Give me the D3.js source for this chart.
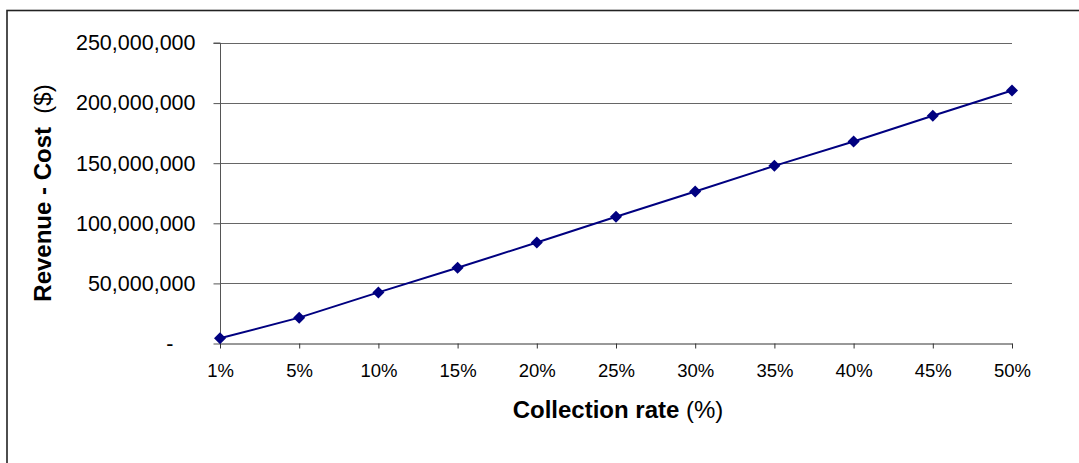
<!DOCTYPE html>
<html>
<head>
<meta charset="utf-8">
<script src="https://cdn.jsdelivr.net/npm/d3@7"></script>
<style>
  html, body { margin: 0; padding: 0; background: #fff; }
  svg { display: block; font-family: "Liberation Sans", Arial, sans-serif; }
</style>
</head>
<body>
<svg id="chart" width="1079" height="463"></svg>
<script>
// Collection rate categories (x axis)
const rates = ["1%", "5%", "10%", "15%", "20%", "25%", "30%", "35%", "40%", "45%", "50%"];
// Net result (revenue minus cost), in dollars
const netValues = [4300000, 21500000, 42500000, 63000000, 84000000, 105500000,
                   126500000, 147800000, 168000000, 189500000, 210500000];
// Y axis ticks and their labels
const yTicks = [0, 50000000, 100000000, 150000000, 200000000, 250000000];
const yTickLabels = ["-", "50,000,000", "100,000,000", "150,000,000", "200,000,000", "250,000,000"];

const svg = d3.select("#chart");
const W = 1079, H = 463;
const plot = { left: 220, right: 1012, top: 43, bottom: 343.5 };

// Outer frame (left and top edges are visible; it runs past the page on the right/bottom)
svg.append("rect")
  .attr("x", 7).attr("y", 10.5)
  .attr("width", W + 10).attr("height", H + 10)
  .attr("fill", "#fff")
  .attr("stroke", "#222").attr("stroke-width", 1.6);

const x = d3.scalePoint().domain(rates).range([plot.left, plot.right]).padding(0);
const y = d3.scaleLinear().domain([0, 250000000]).range([plot.bottom, plot.top]);

// Horizontal gridlines
svg.append("g")
  .selectAll("line")
  .data(yTicks.filter(d => d > 0))
  .join("line")
  .attr("x1", plot.left).attr("x2", plot.right)
  .attr("y1", d => Math.round(y(d)) + 0.5).attr("y2", d => Math.round(y(d)) + 0.5)
  .attr("stroke", "#666").attr("stroke-width", 1);

// Y axis
const yAxis = d3.axisLeft(y)
  .tickValues(yTicks)
  .tickSize(7)
  .tickPadding(18)
  .tickFormat((d, i) => yTickLabels[i]);

const gy = svg.append("g")
  .attr("transform", `translate(${plot.left + 0.5},0)`)
  .call(yAxis);
gy.select(".domain").attr("stroke", "#555").attr("d", `M-7,${y(250000000)}H0V${y(0)}`);
gy.selectAll(".tick line").attr("stroke", "#555");
gy.selectAll(".tick text")
  .attr("font-size", 21.5)
  .attr("fill", "#000")
  .attr("font-family", "'Liberation Sans', Arial, sans-serif")
  .attr("dx", (d, i) => yTickLabels[i] === "-" ? -22 : 0);

// X axis
const xAxis = d3.axisBottom(x).tickSize(5).tickSizeOuter(0).tickPadding(15);
const gx = svg.append("g")
  .attr("transform", `translate(0,${plot.bottom})`)
  .call(xAxis);
gx.select(".domain").attr("stroke", "#333");
gx.selectAll(".tick line").attr("stroke", "#333");
gx.selectAll(".tick text")
  .attr("font-size", 18.5)
  .attr("fill", "#000")
  .attr("font-family", "'Liberation Sans', Arial, sans-serif");

// Series line
const line = d3.line()
  .x((d, i) => x(rates[i]))
  .y(d => y(d));

svg.append("path")
  .datum(netValues)
  .attr("d", line)
  .attr("fill", "none")
  .attr("stroke", "#000080")
  .attr("stroke-width", 2);

// Diamond markers
svg.append("g")
  .selectAll("path")
  .data(netValues)
  .join("path")
  .attr("transform", (d, i) => `translate(${x(rates[i])},${y(d)})`)
  .attr("d", d3.symbol().type(d3.symbolDiamond2).size(92))
  .attr("fill", "#000080");

// X axis title
const xt = svg.append("text")
  .attr("x", (plot.left + plot.right) / 2 + 2)
  .attr("y", 418)
  .attr("text-anchor", "middle")
  .attr("font-size", 24)
  .attr("fill", "#000");
xt.append("tspan").attr("font-weight", "bold").text("Collection rate");
xt.append("tspan").text(" (%)");

// Y axis title
const yt = svg.append("text")
  .attr("transform", `translate(51,${193}) rotate(-90)`)
  .attr("text-anchor", "middle")
  .attr("font-size", 24)
  .attr("fill", "#000");
yt.append("tspan").attr("font-weight", "bold").text("Revenue - Cost");
yt.append("tspan").attr("xml:space", "preserve").text("\u00a0 ($)");
</script>
</body>
</html>
